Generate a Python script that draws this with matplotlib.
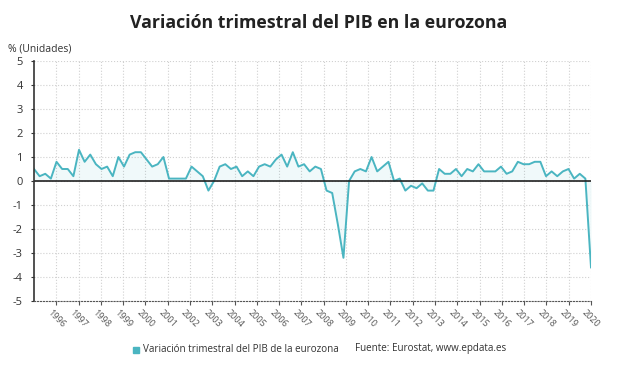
from matplotlib import pyplot as plt
import numpy as np

# variacion trimestral (%), 1995T2 .. 2020T1
quarters = [f"{y}T{q}" for y in range(1995, 2021) for q in range(1, 5)][1:101]
pib = [0.5, 0.2, 0.3, 0.1, 0.8, 0.5, 0.5, 0.2, 1.3, 0.8, 1.1, 0.7,
       0.5, 0.6, 0.2, 1.0, 0.6, 1.1, 1.2, 1.2, 0.9, 0.6, 0.7, 1.0,
       0.1, 0.1, 0.1, 0.1, 0.6, 0.4, 0.2, -0.4, 0.0, 0.6, 0.7, 0.5,
       0.6, 0.2, 0.4, 0.2, 0.6, 0.7, 0.6, 0.9, 1.1, 0.6, 1.2, 0.6,
       0.7, 0.4, 0.6, 0.5, -0.4, -0.5, -1.8, -3.2, 0.0, 0.4, 0.5, 0.4,
       1.0, 0.4, 0.6, 0.8, 0.0, 0.1, -0.4, -0.2, -0.3, -0.1, -0.4, -0.4,
       0.5, 0.3, 0.3, 0.5, 0.2, 0.5, 0.4, 0.7, 0.4, 0.4, 0.4, 0.6,
       0.3, 0.4, 0.8, 0.7, 0.7, 0.8, 0.8, 0.2, 0.4, 0.2, 0.4, 0.5,
       0.1, 0.3, 0.1, -3.6]
years = [str(y) for y in range(1996, 2021)]

color = '#4ab5c1'
txt = '#333333'
plt.rcParams['font.family'] = ['Open Sans', 'DejaVu Sans']

fig = plt.figure(figsize=(6.38, 3.75), dpi=100)
ax = fig.add_axes([34 / 638, 74 / 375, 557 / 638, 240 / 375])

x = np.arange(len(pib))
ax.fill_between(x, pib, 0, color=color, alpha=0.08, lw=0)
ax.plot(x, pib, color=color, lw=1.4)
ax.axhline(0, color='#222222', lw=1.2)

n = len(pib) - 1
ticks = [n * (k + 1) / len(years) for k in range(len(years))]
ax.set_xlim(0, n)
ax.set_ylim(-5, 5)
ax.set_xticks(ticks)
ax.set_xticklabels(years, rotation=-45, ha='center', va='top', fontsize=6.5, color='#555555')
ax.set_yticks(range(-5, 6))
ax.set_yticklabels([str(v) for v in range(-5, 6)], fontsize=8, color=txt)

ax.grid(True, color='#d0d0d0', ls=':', lw=0.8)
ax.set_axisbelow(True)
for s in ['top', 'right']:
    ax.spines[s].set_visible(False)
ax.spines['left'].set_color('#333333')
ax.spines['left'].set_linewidth(1.2)
ax.spines['bottom'].set_color('#555555')
ax.spines['bottom'].set_linestyle(':')
ax.tick_params(axis='x', length=3, color='#555555', pad=2)
ax.tick_params(axis='y', length=2, color='#333333', pad=6)

fig.text(0.5, 1 - 23 / 375, 'Variación trimestral del PIB en la eurozona',
         ha='center', va='center', fontsize=12.8, fontweight='bold', color='#222222')
fig.text(8 / 638, 1 - 49 / 375, '% (Unidades)', ha='left', va='center', fontsize=7.5, color=txt)

fig.patches.append(plt.Rectangle((133 / 638, 22.5 / 375), 6 / 638, 6 / 375,
                                 transform=fig.transFigure, color=color))
fig.text(143 / 638, 26 / 375, 'Variación trimestral del PIB de la eurozona',
         ha='left', va='center', fontsize=7.1, color=txt)
fig.text(355 / 638, 26 / 375, 'Fuente: Eurostat, www.epdata.es',
         ha='left', va='center', fontsize=7.1, color=txt)

fig.savefig('out.png', dpi=100)
